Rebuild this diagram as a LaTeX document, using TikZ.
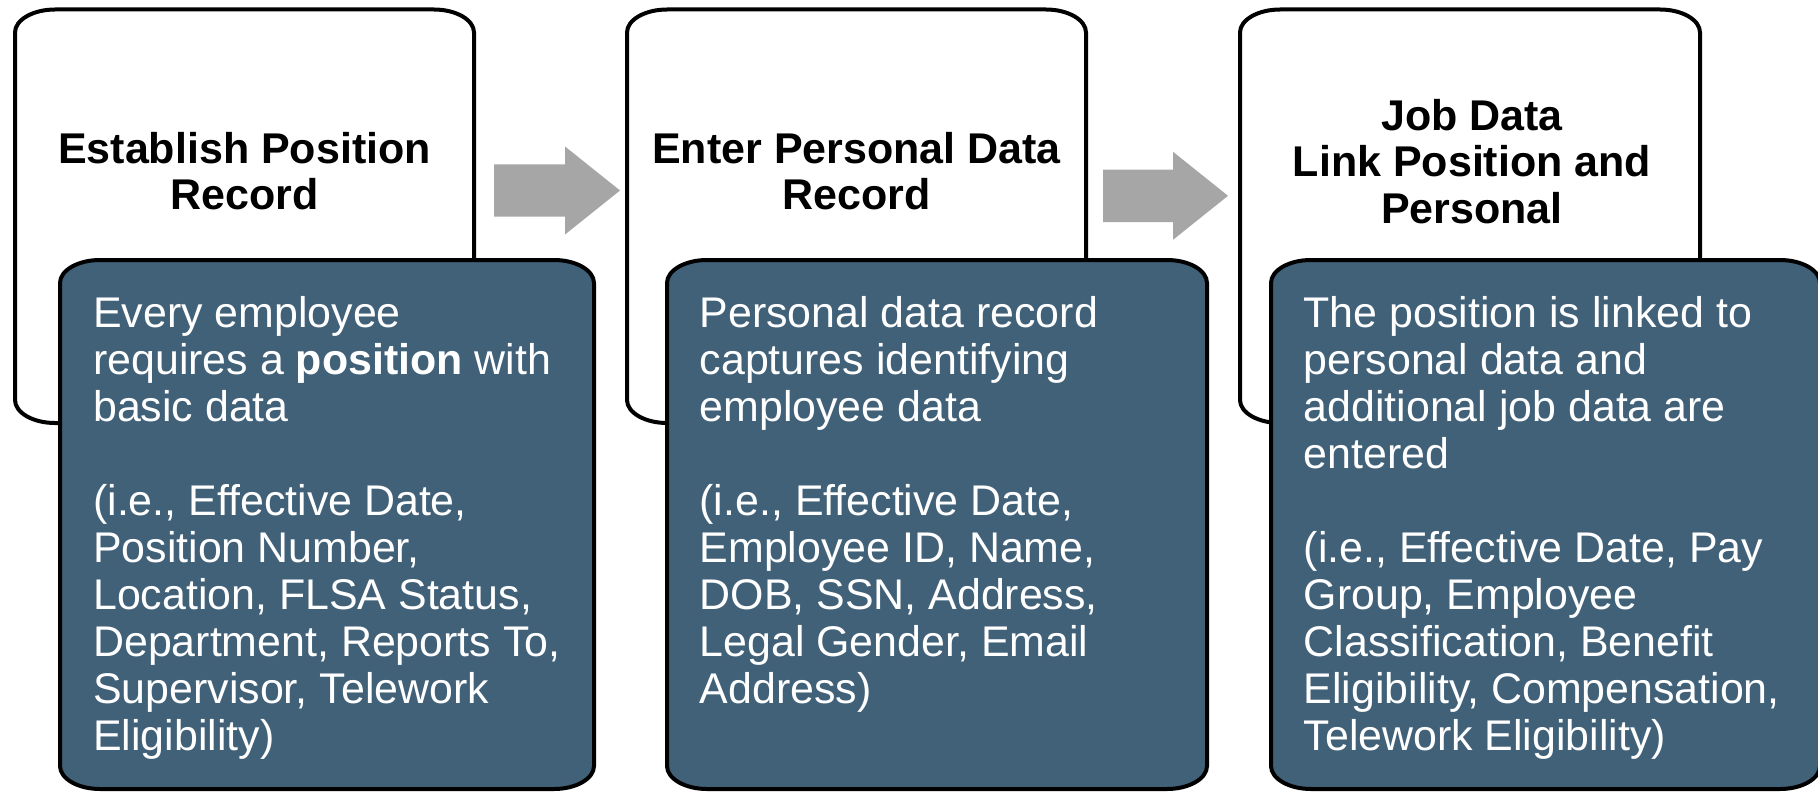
\documentclass[tikz,border=0pt]{standalone}
\usepackage{fontspec}
\setmainfont{Liberation Sans}

\definecolor{panelblue}{RGB}{65,97,121}
\definecolor{arrowgray}{RGB}{166,166,166}

\tikzset{
  cardframe/.style={draw=black, line width=4pt, fill=white},
  infoframe/.style={draw=black, line width=4pt, fill=panelblue},
  flowarrow/.style={fill=arrowgray},
  titletext/.style={anchor=base, inner sep=0pt, text=black,
    font=\fontsize{43}{46.5}\selectfont\bfseries},
  bodytext/.style={anchor=base west, inner sep=0pt, text=white,
    font=\fontsize{42.9}{47}\selectfont},
}

% rectangle with elliptical corners (40 wide, 23 high): style, x0, y0, x1, y1
\newcommand\ovalcard[5]{%
  \path[#1] (#2+40,#3) -- (#4-40,#3)
    .. controls (#4-18,#3) and (#4,#3+10.3) .. (#4,#3+23)
    -- (#4,#5-23)
    .. controls (#4,#5-10.3) and (#4-18,#5) .. (#4-40,#5)
    -- (#2+40,#5)
    .. controls (#2+18,#5) and (#2,#5-10.3) .. (#2,#5-23)
    -- (#2,#3+23)
    .. controls (#2,#3+10.3) and (#2+18,#3) .. (#2+40,#3) -- cycle;}

% block arrow: tail x, head start x, tip x, centre y
\newcommand\blockarrow[4]{%
  \fill[flowarrow] (#1,#4-26.2) -- (#2,#4-26.2) -- (#2,#4-44) -- (#3,#4)
    -- (#2,#4+44) -- (#2,#4+26.2) -- (#1,#4+26.2) -- cycle;}

\begin{document}
\begin{tikzpicture}[x=1pt,y=-1pt]
  \useasboundingbox (0,0) rectangle (1818,792);
  \clip (0,0) rectangle (1818,792);

  % step 1
  \ovalcard{cardframe}{15}{9.5}{474}{423}
  \ovalcard{infoframe}{60}{260}{594}{789}
  \node[titletext] (t1) at (244.5,163)
    {\parbox[t]{440pt}{\centering Establish Position\\Record}};
  \node[bodytext] (b1) at (93,327)
    {\parbox[t]{520pt}{\raggedright Every employee\\
      requires a \textbf{position} with\\
      basic data\\
      \mbox{}\\
      (i.e., Effective Date,\\
      Position Number,\\
      Location, FLSA Status,\\
      Department, Reports To,\\
      Supervisor, Telework\\
      Eligibility)}};

  % step 2
  \ovalcard{cardframe}{627}{9.5}{1086}{423}
  \ovalcard{infoframe}{667}{260}{1207}{789}
  \node[titletext] (t2) at (856.5,163)
    {\parbox[t]{440pt}{\centering Enter Personal Data\\Record}};
  \node[bodytext] (b2) at (699.5,327)
    {\parbox[t]{520pt}{\raggedright Personal data record\\
      captures identifying\\
      employee data\\
      \mbox{}\\
      (i.e., Effective Date,\\
      Employee ID, Name,\\
      DOB, SSN, Address,\\
      Legal Gender, Email\\
      Address)}};

  % step 3
  \ovalcard{cardframe}{1240}{9.5}{1700}{423}
  \ovalcard{infoframe}{1271}{260}{1820}{789}
  \node[titletext] (t3) at (1472,130)
    {\parbox[t]{440pt}{\centering Job Data\\Link Position and\\Personal}};
  \node[bodytext] (b3) at (1303.5,327)
    {\parbox[t]{520pt}{\raggedright The position is linked to\\
      personal data and\\
      additional job data are\\
      entered\\
      \mbox{}\\
      (i.e., Effective Date, Pay\\
      Group, Employee\\
      Classification, Benefit\\
      Eligibility, Compensation,\\
      Telework Eligibility)}};

  % arrows between the steps
  \blockarrow{494}{565}{620}{190.5}
  \blockarrow{1103}{1173}{1228}{195.8}
\end{tikzpicture}
\end{document}
